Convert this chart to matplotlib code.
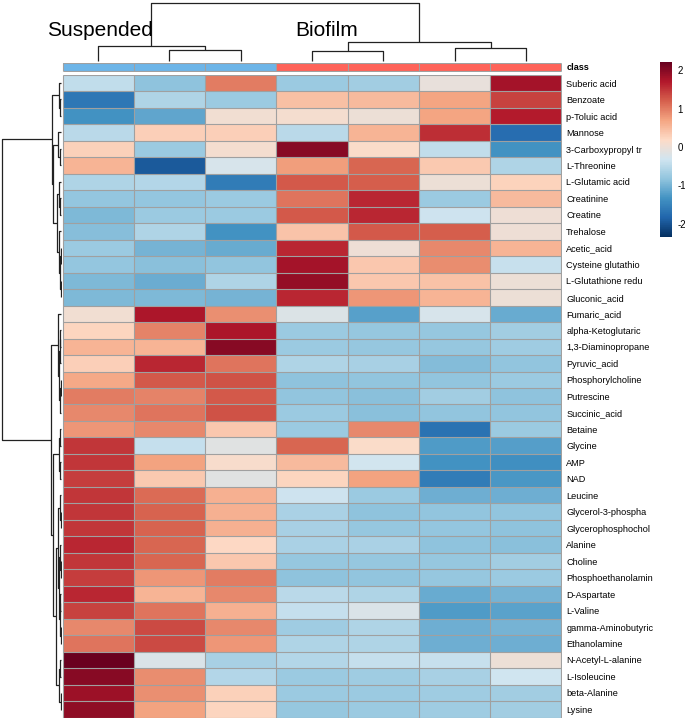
import matplotlib
matplotlib.use("Agg")
import matplotlib.pyplot as plt
import numpy as np
from matplotlib.colors import LinearSegmentedColormap, ListedColormap

plt.rcParams["font.family"] = ["Liberation Sans", "DejaVu Sans"]

metabolites = [
    "Suberic acid", "Benzoate", "p-Toluic acid", "Mannose", "3-Carboxypropyl tr",
    "L-Threonine", "L-Glutamic acid", "Creatinine", "Creatine", "Trehalose",
    "Acetic_acid", "Cysteine glutathio", "L-Glutathione redu", "Gluconic_acid",
    "Fumaric_acid", "alpha-Ketoglutaric", "1,3-Diaminopropane", "Pyruvic_acid",
    "Phosphorylcholine", "Putrescine", "Succinic_acid", "Betaine", "Glycine", "AMP",
    "NAD", "Leucine", "Glycerol-3-phospha", "Glycerophosphochol", "Alanine", "Choline",
    "Phosphoethanolamin", "D-Aspartate", "L-Valine", "gamma-Aminobutyric",
    "Ethanolamine", "N-Acetyl-L-alanine", "L-Isoleucine", "beta-Alanine", "Lysine",
]

# z-scores per sample
susp_1 = [-0.45, -1.65, -1.35, -0.5, 0.28, 0.55, -0.6, -0.8, -0.95, -0.9,
          -0.75, -0.8, -0.95, -0.95, 0.05, 0.25, 0.55, 0.3, 0.65, 1.0,
          0.9, 0.8, 1.5, 1.5, 1.45, 1.5, 1.5, 1.5, 1.6, 1.5,
          1.45, 1.6, 1.4, 0.9, 1.05, 2.2, 2.0, 1.85, 1.95]
susp_2 = [-0.85, -0.6, -1.15, 0.3, -0.75, -1.95, -0.55, -0.8, -0.75, -0.6,
          -1.0, -0.88, -1.08, -0.95, 1.75, 0.95, 0.55, 1.6, 1.25, 0.95,
          1.05, 0.9, -0.42, 0.72, 0.35, 1.12, 1.18, 1.18, 1.15, 1.15,
          0.8, 0.55, 1.05, 1.35, 1.35, -0.22, 0.88, 0.85, 0.72]
susp_3 = [1.0, -0.75, 0.05, 0.3, 0.08, -0.25, -1.6, -0.75, -0.75, -1.35,
          -1.1, -0.82, -0.6, -1.0, 0.85, 1.75, 2.0, 1.05, 1.3, 1.25,
          1.3, 0.38, -0.15, 0.12, -0.15, 0.58, 0.58, 0.58, 0.22, 0.38,
          1.0, 0.9, 0.58, 0.9, 0.8, -0.65, -0.55, 0.28, 0.25]
bio_1 = [-0.75, 0.45, 0.08, -0.5, 2.0, 0.75, 1.25, 1.05, 1.25, 0.4,
         1.6, 1.8, 1.9, 1.6, -0.2, -0.75, -0.75, -0.6, -0.85, -0.82,
         -0.75, -0.75, 1.15, 0.5, 0.25, -0.35, -0.62, -0.65, -0.62, -0.78,
         -0.85, -0.5, -0.42, -0.72, -0.6, -0.55, -0.75, -0.75, -0.78]
bio_2 = [-0.7, 0.5, 0.0, 0.55, 0.15, 1.15, 1.22, 1.6, 1.6, 1.25,
         0.02, 0.38, 0.38, 0.8, -1.2, -0.78, -0.78, -0.65, -0.82, -0.88,
         -0.88, 0.9, 0.15, -0.3, 0.72, -0.75, -0.85, -0.78, -0.62, -0.78,
         -0.82, -0.6, -0.22, -0.6, -0.6, -0.42, -0.72, -0.75, -0.75]
bio_3 = [-0.05, 0.7, 0.7, 1.55, -0.45, 0.35, 0.0, -0.75, -0.35, 1.22,
         0.9, 0.88, 0.42, 0.55, -0.25, -0.78, -0.78, -0.92, -0.82, -0.7,
         -0.82, -1.7, -1.25, -1.35, -1.6, -1.05, -0.82, -0.8, -0.85, -0.78,
         -0.78, -1.1, -1.25, -1.05, -1.05, -0.4, -0.65, -0.72, -0.72]
bio_4 = [1.8, 1.4, 1.7, -1.75, -1.35, -0.6, 0.27, 0.5, 0.02, 0.02,
         0.55, -0.4, 0.0, 0.0, -1.1, -0.7, -0.72, -0.82, -0.75, -0.85,
         -0.82, -0.75, -1.22, -1.38, -1.28, -1.05, -0.82, -0.85, -0.87, -0.7,
         -0.75, -1.0, -1.18, -1.0, -1.05, 0.0, -0.33, -0.7, -0.7]

sample_class = ["Suspended", "Suspended", "Suspended", "Biofilm", "Biofilm", "Biofilm", "Biofilm"]
class_colors = {"Suspended": "#6DB5E8", "Biofilm": "#FF6359"}

# dendrograms as (left, right, merge height); leaves are display indices
col_tree = ((0, (1, 2, 11.0), 15.0), ((3, 4, 10.0), (5, 6, 13.0), 19.5), 58.0)
row_top = ((0, (1, 2, 0.8), 2.5),
           ((3, (4, 5, 1.0), 3.5),
            ((6, (7, 8, 0.6), 2.0), (9, ((10, 11, 0.5), (12, 13, 0.4), 1.0), 2.5), 4.5),
            8.0),
           9.3)
row_bottom = ((14, (((15, 16, 0.6), 17, 1.2), ((18, 19, 0.5), 20, 0.9), 2.0), 3.0),
              (((21, 22, 1.5), (23, 24, 1.0), 2.5),
               (((25, (26, 27, 0.3), 0.8), ((28, (29, 30, 0.4), 0.9), ((31, 32, 0.6), (33, 34, 0.5), 1.2), 1.8), 3.5),
                ((35, 36, 1.5), (37, 38, 0.5), 2.5), 5.0),
               7.7),
              10.3)
row_tree = (row_top, row_bottom, 58.7)

vmin, vmax = -2.35, 2.22
rdbu10 = ["#053061", "#2166AC", "#4393C3", "#92C5DE", "#D1E5F0",
          "#FDDBC7", "#F4A582", "#D6604D", "#B2182B", "#67001F"]
cmap = LinearSegmentedColormap.from_list("rdbu10", rdbu10, N=256)

data = np.column_stack([susp_1, susp_2, susp_3, bio_1, bio_2, bio_3, bio_4])
n_rows, n_cols = data.shape

W, H = 685, 720
fig = plt.figure(figsize=(W / 100, H / 100), dpi=100)


def box(x0, y0, x1, y1):
    return [x0 / W, 1 - y1 / H, (x1 - x0) / W, (y1 - y0) / H]


grid_col = "#a0a0a0"
grid_lw = 0.8


def cell_grid(axg, nr, nc):
    axg.hlines(np.arange(nr + 1), 0, nc, color=grid_col, lw=grid_lw)
    axg.vlines(np.arange(nc + 1), 0, nr, color=grid_col, lw=grid_lw)


hm_l, hm_r, hm_t, hm_b = 62, 562, 74.5, 718
ax = fig.add_axes(box(hm_l, hm_t, hm_r, hm_b))
ax.pcolormesh(data, cmap=cmap, vmin=vmin, vmax=vmax)
cell_grid(ax, n_rows, n_cols)
ax.set_xlim(-0.01, n_cols + 0.01)
ax.set_ylim(n_rows + 0.02, -0.02)
ax.set_xticks([])
ax.yaxis.tick_right()
ax.set_yticks(np.arange(n_rows) + 0.5)
ax.set_yticklabels(metabolites, fontsize=6.6)
ax.tick_params(axis="y", length=0, pad=3)
for s in ax.spines.values():
    s.set_visible(False)

# class annotation bar
cax_cls = fig.add_axes(box(hm_l, 62.5, hm_r, 71.5))
cls_cmap = ListedColormap([class_colors["Suspended"], class_colors["Biofilm"]])
cls_idx = np.array([[0 if c == "Suspended" else 1 for c in sample_class]])
cax_cls.pcolormesh(cls_idx, cmap=cls_cmap, vmin=0, vmax=1)
cell_grid(cax_cls, 1, n_cols)
cax_cls.set_xlim(-0.01, n_cols + 0.01)
cax_cls.set_ylim(-0.05, 1.05)
cax_cls.set_xticks([])
cax_cls.yaxis.tick_right()
cax_cls.set_yticks([0.5])
cax_cls.set_yticklabels(["class"], fontsize=6.6, fontweight="bold")
cax_cls.tick_params(axis="y", length=0, pad=3)
for s in cax_cls.spines.values():
    s.set_visible(False)


def draw_tree(axd, node, vertical):
    if isinstance(node, int):
        return node + 0.5, 0.0
    left, right, h = node
    p1, h1 = draw_tree(axd, left, vertical)
    p2, h2 = draw_tree(axd, right, vertical)
    pos = [p1, p1, p2, p2]
    hts = [h1, h, h, h2]
    if vertical:
        axd.plot(pos, hts, color="#222222", lw=0.9, solid_capstyle="butt")
    else:
        axd.plot(hts, pos, color="#222222", lw=0.9, solid_capstyle="butt")
    return (p1 + p2) / 2, h


# column dendrogram
axc = fig.add_axes(box(hm_l, 0, hm_r, 62))
draw_tree(axc, col_tree, True)
root_c = col_tree[2]
axc.set_xlim(0, n_cols)
axc.set_ylim(-root_c * 1 / 58, root_c * 61 / 58)
axc.axis("off")

# row dendrogram
axr = fig.add_axes(box(0, hm_t, hm_l, hm_b))
draw_tree(axr, row_tree, False)
root_r = row_tree[2]
axr.set_ylim(n_rows, 0)
axr.set_xlim(root_r * 61 / 58.7, -root_r * 1 / 58.7)
axr.axis("off")

fig.text(100 / W, 1 - 30 / H, "Suspended", fontsize=15, ha="center", va="center")
fig.text(327 / W, 1 - 30 / H, "Biofilm", fontsize=15, ha="center", va="center")

# colour key
axk = fig.add_axes(box(660, 62, 672, 237))
sm = plt.cm.ScalarMappable(cmap=cmap, norm=plt.Normalize(vmin, vmax))
cb = fig.colorbar(sm, cax=axk, ticks=[-2, -1, 0, 1, 2])
cb.outline.set_visible(False)
cb.ax.tick_params(length=0, labelsize=7, pad=4)
cb.ax.set_yticklabels(["-2", "-1", "0", "1", "2"])

fig.savefig("out.png", dpi=100)
